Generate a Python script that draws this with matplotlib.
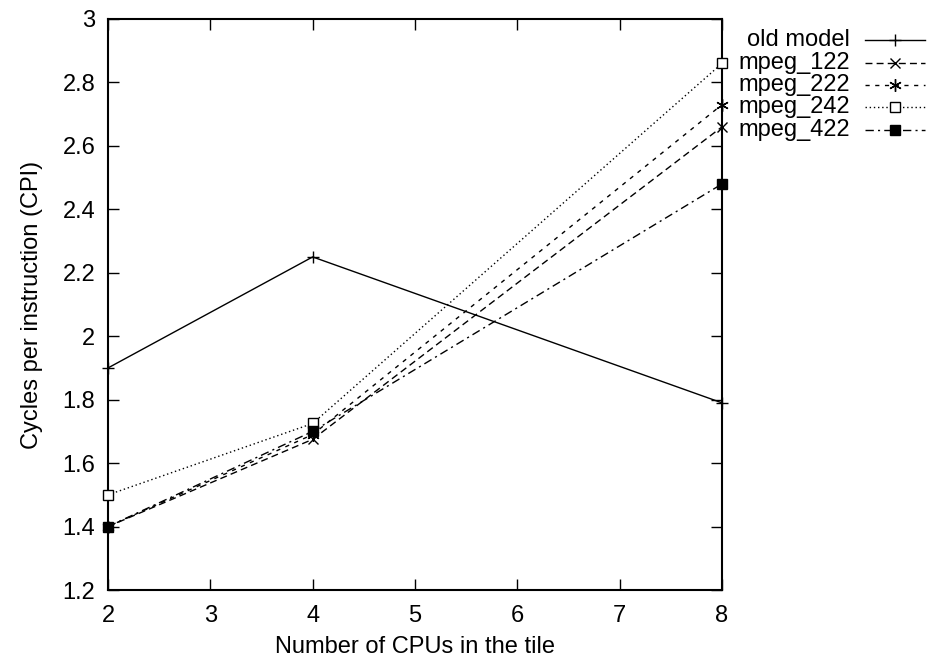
import matplotlib
matplotlib.use('Agg')

import matplotlib.pyplot as plt
from matplotlib.lines import Line2D

# data
cpus = [2, 4, 8]
old_model = [1.90, 2.25, 1.79]
mpeg_122 = [1.40, 1.675, 2.66]
mpeg_222 = [1.40, 1.69, 2.73]
mpeg_242 = [1.50, 1.725, 2.86]
mpeg_422 = [1.40, 1.70, 2.48]

names = ["old model", "mpeg_122", "mpeg_222", "mpeg_242", "mpeg_422"]
x_ticks = [2, 3, 4, 5, 6, 7, 8]
y_ticks = [1.2, 1.4, 1.6, 1.8, 2.0, 2.2, 2.4, 2.6, 2.8, 3.0]
y_tick_labels = ["1.2", "1.4", "1.6", "1.8", "2", "2.2", "2.4", "2.6", "2.8", "3"]

plt.rcParams['font.family'] = ['Liberation Sans', 'DejaVu Sans']
font_size = 17
line_size = 1.0

styles = [
	dict(ls='-', marker='+', ms=9, mfc='black'),
	dict(ls=(0, (5, 3)), marker='x', ms=7, mfc='black'),
	dict(ls=(0, (3, 4)), marker=(6, 2, 0), ms=9, mfc='black'),
	dict(ls=(0, (1, 2)), marker='s', ms=7, mfc='white'),
	dict(ls=(0, (6, 3, 1.5, 3)), marker='s', ms=7, mfc='black'),
]

fig = plt.figure(figsize=(9.31, 6.64), dpi=100)
ax = fig.add_axes([0.116, 0.1114, 0.6595, 0.86])

series = [old_model, mpeg_122, mpeg_222, mpeg_242, mpeg_422]
for y, st in zip(series, styles):
	ax.plot(cpus, y, color='black', lw=line_size, ls=st['ls'], marker=st['marker'],
		ms=st['ms'], mfc=st['mfc'], mec='black', mew=1.0, clip_on=False, zorder=3)

ax.set_xlim(2, 8)
ax.set_ylim(1.2, 3.0)
ax.set_xticks(x_ticks)
ax.set_yticks(y_ticks)
ax.set_yticklabels(y_tick_labels)
ax.tick_params(direction='in', length=8, width=1, top=True, right=True,
	labelsize=font_size)
ax.tick_params(axis='x', pad=11)
ax.tick_params(axis='y', pad=9)
for s in ax.spines.values():
	s.set_linewidth(1.5)

ax.set_xlabel("Number of CPUs in the tile", fontsize=font_size, labelpad=6)
ax.set_ylabel("Cycles per instruction (CPI)", fontsize=font_size, labelpad=14)

# gnuplot style legend outside on the right
row_h = 22.5 / 664
y0 = (664 - 40) / 664
for i, (name, st) in enumerate(zip(names, styles)):
	yy = y0 - i * row_h
	fig.text(850 / 931, yy, name, ha='right', va='center', fontsize=font_size)
	fig.add_artist(Line2D([865 / 931, 925 / 931], [yy, yy], color='black', lw=line_size,
		ls=st['ls']))
	fig.add_artist(Line2D([895 / 931], [yy], color='black', marker=st['marker'],
		ms=st['ms'], mfc=st['mfc'], mec='black', mew=1.0, ls='none'))

plt.savefig("out.png", dpi=100)
